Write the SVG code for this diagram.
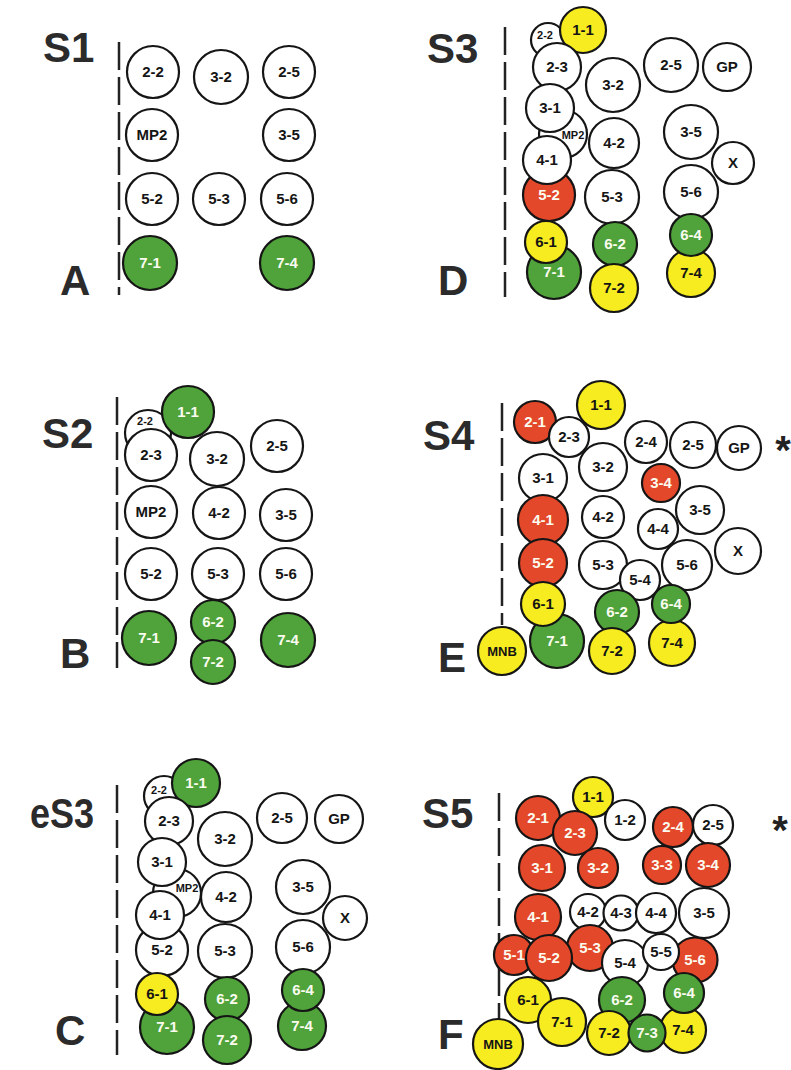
<svg xmlns="http://www.w3.org/2000/svg" width="791" height="1070" viewBox="0 0 791 1070">
<style>
circle{stroke:#151515;stroke-width:2.2}
.w{fill:#fff}.g{fill:#4fa33a}.r{fill:#e4482a}.y{fill:#f6ec1f}
text{font-family:"Liberation Sans",Arial,sans-serif;font-weight:bold;font-size:15px;text-anchor:middle;fill:#151515}
.g+text,.r+text{fill:#fbfbf0}
.s{font-size:11px}
.lbl{font-size:42px;fill:#2b2b2b;text-anchor:start}
.star{font-size:40px;fill:#222}
.div{stroke:#222;stroke-width:2.5;stroke-dasharray:28 7;fill:none}
</style>
<rect width="791" height="1070" fill="#fff"/>
<g id="dividers">
<line class="div" x1="119" y1="42" x2="119" y2="295"/>
<line class="div" x1="505" y1="27" x2="505" y2="297"/>
<line class="div" x1="117" y1="397" x2="117" y2="668"/>
<line class="div" x1="502" y1="403" x2="502" y2="625"/>
<line class="div" x1="117" y1="785" x2="117" y2="1055"/>
<line class="div" x1="499" y1="793" x2="499" y2="1020"/>
</g>
<g id="connectors"/>
<g id="labels">
<text class="lbl" x="43" y="62">S1</text><text class="lbl" x="60" y="295">A</text>
<text class="lbl" x="42" y="448">S2</text><text class="lbl" x="60" y="668">B</text>
<text class="lbl" x="30" y="828" textLength="64" lengthAdjust="spacingAndGlyphs">eS3</text><text class="lbl" x="55" y="1045">C</text>
<text class="lbl" x="427" y="63">S3</text><text class="lbl" x="438" y="295">D</text>
<text class="lbl" x="423" y="450">S4</text><text class="lbl" x="438" y="672">E</text>
<text class="lbl" x="422" y="828">S5</text><text class="lbl" x="438" y="1049">F</text>
<text class="star" x="783" y="464">*</text>
<text class="star" x="780" y="844">*</text>
</g>
<g id="panelA">
<g id="A-2-2"><circle class="w" cx="153" cy="72" r="26"/><text x="153" y="77">2-2</text></g>
<g id="A-3-2"><circle class="w" cx="221" cy="77" r="27"/><text x="221" y="82">3-2</text></g>
<g id="A-2-5"><circle class="w" cx="289" cy="72" r="26"/><text x="289" y="77">2-5</text></g>
<g id="A-MP2"><circle class="w" cx="152" cy="135" r="26"/><text x="152" y="140">MP2</text></g>
<g id="A-3-5"><circle class="w" cx="289" cy="135" r="26"/><text x="289" y="140">3-5</text></g>
<g id="A-5-2"><circle class="w" cx="152" cy="199" r="26"/><text x="152" y="204">5-2</text></g>
<g id="A-5-3"><circle class="w" cx="219" cy="199" r="26"/><text x="219" y="204">5-3</text></g>
<g id="A-5-6"><circle class="w" cx="287" cy="199" r="26"/><text x="287" y="204">5-6</text></g>
<g id="A-7-1"><circle class="g" cx="150" cy="263" r="27"/><text x="150" y="268">7-1</text></g>
<g id="A-7-4"><circle class="g" cx="287" cy="263" r="27"/><text x="287" y="268">7-4</text></g>
</g>
<g id="panelB">
<g id="B-2-2"><circle class="w" cx="148" cy="433" r="23"/><text class="s" x="145" y="425">2-2</text></g>
<g id="B-2-3"><circle class="w" cx="151" cy="455" r="26"/><text x="151" y="460">2-3</text></g>
<g id="B-1-1"><circle class="g" cx="188" cy="412" r="26"/><text x="188" y="417">1-1</text></g>
<g id="B-3-2"><circle class="w" cx="217" cy="459" r="27"/><text x="217" y="464">3-2</text></g>
<g id="B-2-5"><circle class="w" cx="277" cy="446" r="26"/><text x="277" y="451">2-5</text></g>
<g id="B-MP2"><circle class="w" cx="151" cy="512" r="26"/><text x="151" y="517">MP2</text></g>
<g id="B-4-2"><circle class="w" cx="219" cy="513" r="26"/><text x="219" y="518">4-2</text></g>
<g id="B-3-5"><circle class="w" cx="286" cy="515" r="26"/><text x="286" y="520">3-5</text></g>
<g id="B-5-2"><circle class="w" cx="151" cy="574" r="26"/><text x="151" y="579">5-2</text></g>
<g id="B-5-3"><circle class="w" cx="218" cy="574" r="26"/><text x="218" y="579">5-3</text></g>
<g id="B-5-6"><circle class="w" cx="286" cy="574" r="26"/><text x="286" y="579">5-6</text></g>
<g id="B-7-1"><circle class="g" cx="149" cy="638" r="27"/><text x="149" y="643">7-1</text></g>
<g id="B-6-2"><circle class="g" cx="213" cy="622" r="22"/><text x="213" y="627">6-2</text></g>
<g id="B-7-2"><circle class="g" cx="213" cy="662" r="22"/><text x="213" y="667">7-2</text></g>
<g id="B-7-4"><circle class="g" cx="288" cy="640" r="27"/><text x="288" y="645">7-4</text></g>
</g>
<g id="panelC">
<g id="C-2-2"><circle class="w" cx="164" cy="796" r="20"/><text class="s" x="159" y="794">2-2</text></g>
<g id="C-1-1"><circle class="g" cx="196" cy="783" r="24"/><text x="196" y="788">1-1</text></g>
<g id="C-2-3"><circle class="w" cx="169" cy="821" r="24"/><text x="169" y="826">2-3</text></g>
<g id="C-MP2"><circle class="w" cx="177" cy="893" r="24"/><text class="s" x="187" y="892">MP2</text></g>
<g id="C-3-1"><circle class="w" cx="162" cy="862" r="24"/><text x="162" y="867">3-1</text></g>
<g id="C-4-2"><circle class="w" cx="226" cy="897" r="25"/><text x="226" y="902">4-2</text></g>
<g id="C-5-2"><circle class="w" cx="162" cy="950" r="26"/><text x="162" y="955">5-2</text></g>
<g id="C-4-1"><circle class="w" cx="160" cy="915" r="24"/><text x="160" y="920">4-1</text></g>
<g id="C-3-2"><circle class="w" cx="225" cy="839" r="27"/><text x="225" y="844">3-2</text></g>
<g id="C-2-5"><circle class="w" cx="282" cy="818" r="25"/><text x="282" y="823">2-5</text></g>
<g id="C-GP"><circle class="w" cx="339" cy="819" r="24"/><text x="339" y="824">GP</text></g>
<g id="C-X"><circle class="w" cx="345" cy="918" r="22"/><text x="345" y="923">X</text></g>
<g id="C-3-5"><circle class="w" cx="303" cy="887" r="27"/><text x="303" y="892">3-5</text></g>
<g id="C-5-3"><circle class="w" cx="225" cy="951" r="27"/><text x="225" y="956">5-3</text></g>
<g id="C-5-6"><circle class="w" cx="303" cy="947" r="27"/><text x="303" y="952">5-6</text></g>
<g id="C-7-1"><circle class="g" cx="167" cy="1027" r="27"/><text x="167" y="1032">7-1</text></g>
<g id="C-6-1"><circle class="y" cx="157" cy="994" r="21"/><text x="157" y="999">6-1</text></g>
<g id="C-6-2"><circle class="g" cx="227" cy="999" r="22"/><text x="227" y="1004">6-2</text></g>
<g id="C-7-2"><circle class="g" cx="227" cy="1040" r="24"/><text x="227" y="1045">7-2</text></g>
<g id="C-7-4"><circle class="g" cx="302" cy="1026" r="24"/><text x="302" y="1031">7-4</text></g>
<g id="C-6-4"><circle class="g" cx="303" cy="990" r="21"/><text x="303" y="995">6-4</text></g>
</g>
<g id="panelD">
<g id="D-2-2"><circle class="w" cx="548" cy="40" r="17"/><text class="s" x="545" y="39">2-2</text></g>
<g id="D-1-1"><circle class="y" cx="583" cy="30" r="23"/><text x="583" y="35">1-1</text></g>
<g id="D-2-3"><circle class="w" cx="557" cy="67" r="24"/><text x="557" y="72">2-3</text></g>
<g id="D-MP2"><circle class="w" cx="563" cy="134" r="24"/><text class="s" x="573" y="139">MP2</text></g>
<g id="D-3-1"><circle class="w" cx="550" cy="108" r="24"/><text x="550" y="113">3-1</text></g>
<g id="D-4-2"><circle class="w" cx="614" cy="143" r="25"/><text x="614" y="148">4-2</text></g>
<g id="D-5-2"><circle class="r" cx="549" cy="195" r="26"/><text x="549" y="200">5-2</text></g>
<g id="D-4-1"><circle class="w" cx="547" cy="160" r="24"/><text x="547" y="165">4-1</text></g>
<g id="D-3-2"><circle class="w" cx="613" cy="85" r="27"/><text x="613" y="90">3-2</text></g>
<g id="D-2-5"><circle class="w" cx="671" cy="65" r="27"/><text x="671" y="70">2-5</text></g>
<g id="D-GP"><circle class="w" cx="727" cy="67" r="24"/><text x="727" y="72">GP</text></g>
<g id="D-X"><circle class="w" cx="733" cy="163" r="21"/><text x="733" y="168">X</text></g>
<g id="D-3-5"><circle class="w" cx="691" cy="132" r="27"/><text x="691" y="137">3-5</text></g>
<g id="D-5-3"><circle class="w" cx="612" cy="197" r="27"/><text x="612" y="202">5-3</text></g>
<g id="D-5-6"><circle class="w" cx="691" cy="192" r="27"/><text x="691" y="197">5-6</text></g>
<g id="D-7-1"><circle class="g" cx="554" cy="272" r="27"/><text x="554" y="277">7-1</text></g>
<g id="D-6-1"><circle class="y" cx="546" cy="242" r="21"/><text x="546" y="247">6-1</text></g>
<g id="D-6-2"><circle class="g" cx="615" cy="244" r="22"/><text x="615" y="249">6-2</text></g>
<g id="D-7-2"><circle class="y" cx="614" cy="288" r="24"/><text x="614" y="293">7-2</text></g>
<g id="D-7-4"><circle class="y" cx="691" cy="273" r="24"/><text x="691" y="278">7-4</text></g>
<g id="D-6-4"><circle class="g" cx="691" cy="235" r="21"/><text x="691" y="240">6-4</text></g>
</g>
<g id="panelE">
<g id="E-2-1"><circle class="r" cx="535" cy="422" r="21"/><text x="535" y="427">2-1</text></g>
<g id="E-2-3"><circle class="w" cx="569" cy="437" r="20"/><text x="569" y="442">2-3</text></g>
<g id="E-1-1"><circle class="y" cx="601" cy="405" r="24"/><text x="601" y="410">1-1</text></g>
<g id="E-2-4"><circle class="w" cx="646" cy="442" r="21"/><text x="646" y="447">2-4</text></g>
<g id="E-2-5"><circle class="w" cx="693" cy="445" r="23"/><text x="693" y="450">2-5</text></g>
<g id="E-GP"><circle class="w" cx="739" cy="448" r="22"/><text x="739" y="453">GP</text></g>
<g id="E-3-1"><circle class="w" cx="543" cy="478" r="24"/><text x="543" y="483">3-1</text></g>
<g id="E-3-2"><circle class="w" cx="603" cy="467" r="24"/><text x="603" y="472">3-2</text></g>
<g id="E-3-4"><circle class="r" cx="661" cy="483" r="19"/><text x="661" y="488">3-4</text></g>
<g id="E-4-4"><circle class="w" cx="658" cy="529" r="20"/><text x="658" y="534">4-4</text></g>
<g id="E-3-5"><circle class="w" cx="700" cy="510" r="24"/><text x="700" y="515">3-5</text></g>
<g id="E-4-2"><circle class="w" cx="603" cy="517" r="21"/><text x="603" y="522">4-2</text></g>
<g id="E-4-1"><circle class="r" cx="543" cy="520" r="25"/><text x="543" y="525">4-1</text></g>
<g id="E-5-2"><circle class="r" cx="543" cy="563" r="24"/><text x="543" y="568">5-2</text></g>
<g id="E-5-3"><circle class="w" cx="603" cy="565" r="24"/><text x="603" y="570">5-3</text></g>
<g id="E-5-4"><circle class="w" cx="640" cy="580" r="20"/><text x="640" y="585">5-4</text></g>
<g id="E-5-6"><circle class="w" cx="687" cy="565" r="25"/><text x="687" y="570">5-6</text></g>
<g id="E-X"><circle class="w" cx="738" cy="551" r="23"/><text x="738" y="556">X</text></g>
<g id="E-7-1"><circle class="g" cx="557" cy="641" r="27"/><text x="557" y="646">7-1</text></g>
<g id="E-6-1"><circle class="y" cx="543" cy="604" r="22"/><text x="543" y="609">6-1</text></g>
<g id="E-6-2"><circle class="g" cx="617" cy="612" r="22"/><text x="617" y="617">6-2</text></g>
<g id="E-7-2"><circle class="y" cx="612" cy="651" r="23"/><text x="612" y="656">7-2</text></g>
<g id="E-7-4"><circle class="y" cx="672" cy="643" r="23"/><text x="672" y="648">7-4</text></g>
<g id="E-6-4"><circle class="g" cx="671" cy="604" r="19"/><text x="671" y="609">6-4</text></g>
<g id="E-MNB"><circle class="y" cx="502" cy="651" r="24"/><text x="502" y="656" style="font-size:13px">MNB</text></g>
</g>
<g id="panelF">
<g id="F-1-1"><circle class="y" cx="593" cy="797" r="20"/><text x="593" y="802">1-1</text></g>
<g id="F-2-1"><circle class="r" cx="538" cy="818" r="22"/><text x="538" y="823">2-1</text></g>
<g id="F-2-3"><circle class="r" cx="575" cy="833" r="22"/><text x="575" y="838">2-3</text></g>
<g id="F-1-2"><circle class="w" cx="625" cy="820" r="20"/><text x="625" y="825">1-2</text></g>
<g id="F-2-4"><circle class="r" cx="673" cy="827" r="20"/><text x="673" y="832">2-4</text></g>
<g id="F-2-5"><circle class="w" cx="713" cy="825" r="20"/><text x="713" y="830">2-5</text></g>
<g id="F-3-1"><circle class="r" cx="542" cy="868" r="23"/><text x="542" y="873">3-1</text></g>
<g id="F-3-2"><circle class="r" cx="598" cy="868" r="20"/><text x="598" y="873">3-2</text></g>
<g id="F-3-3"><circle class="r" cx="662" cy="865" r="19"/><text x="662" y="870">3-3</text></g>
<g id="F-3-4"><circle class="r" cx="708" cy="865" r="22"/><text x="708" y="870">3-4</text></g>
<g id="F-4-1"><circle class="r" cx="538" cy="917" r="23"/><text x="538" y="922">4-1</text></g>
<g id="F-4-2"><circle class="w" cx="588" cy="912" r="18"/><text x="588" y="917">4-2</text></g>
<g id="F-4-3"><circle class="w" cx="621" cy="913" r="17.5"/><text x="621" y="918">4-3</text></g>
<g id="F-4-4"><circle class="w" cx="656" cy="913" r="20"/><text x="656" y="918">4-4</text></g>
<g id="F-3-5"><circle class="w" cx="704" cy="913" r="25"/><text x="704" y="918">3-5</text></g>
<g id="F-5-1"><circle class="r" cx="514" cy="955" r="20"/><text x="514" y="960">5-1</text></g>
<g id="F-5-3"><circle class="r" cx="590" cy="948" r="23"/><text x="590" y="953">5-3</text></g>
<g id="F-5-2"><circle class="r" cx="549" cy="958" r="23"/><text x="549" y="963">5-2</text></g>
<g id="F-5-6"><circle class="r" cx="695" cy="960" r="22.5"/><text x="695" y="965">5-6</text></g>
<g id="F-5-4"><circle class="w" cx="625" cy="963" r="23"/><text x="625" y="968">5-4</text></g>
<g id="F-5-5"><circle class="w" cx="661" cy="952" r="18"/><text x="661" y="957">5-5</text></g>
<g id="F-6-1"><circle class="y" cx="528" cy="1000" r="23"/><text x="528" y="1005">6-1</text></g>
<g id="F-7-1"><circle class="y" cx="562" cy="1022" r="24"/><text x="562" y="1027">7-1</text></g>
<g id="F-6-2"><circle class="g" cx="622" cy="1000" r="23"/><text x="622" y="1005">6-2</text></g>
<g id="F-7-2"><circle class="y" cx="609" cy="1033" r="22"/><text x="609" y="1038">7-2</text></g>
<g id="F-7-4"><circle class="y" cx="683" cy="1030" r="23"/><text x="683" y="1035">7-4</text></g>
<g id="F-6-4"><circle class="g" cx="684" cy="993" r="20"/><text x="684" y="998">6-4</text></g>
<g id="F-7-3"><circle class="g" cx="647" cy="1033" r="18.5"/><text x="647" y="1038">7-3</text></g>
<g id="F-MNB"><circle class="y" cx="498" cy="1044" r="25"/><text x="498" y="1049" style="font-size:13px">MNB</text></g>
</g>
</svg>
